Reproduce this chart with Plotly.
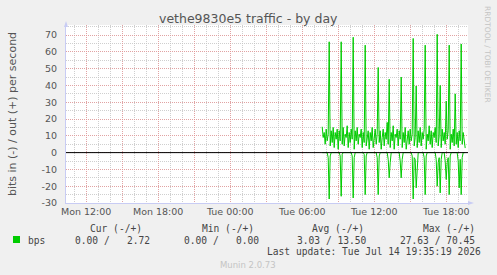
import pandas as pd
import plotly.graph_objects as go

# ---------------- data ----------------
start_time = "2026-07-14 07:40"
step = "5min"
out_bps = [15.4, 9, 12, 5, 14, 7, 11, 66, 4, 13, 6, 15, 3, 12, 8, 14, 2, 13, 7, 66,
           5, 15, 4, 11, 9, 16, 3, 12, 6, 14, 8, 68.7, 2, 13, 7, 15, 5, 11, 9, 14,
           3, 12, 6, 64, 4, 10, 13, 2, 12, 7, 15, 3, 10, 14, 5, 11, 50.7, 6, 13, 2,
           9, 14, 4, 12, 8, 18, 5, 43.7, 3, 12, 7, 16, 2, 11, 9, 14, 4, 13, 8, 45,
           3, 12, 6, 15, 2, 10, 13, 5, 14, 7, 11, 68, 4, 9, 39.7, 3, 13, 6, 15, 4,
           12, 8, 14, 64, 2, 11, 7, 16, 5, 13, 3, 12, 9, 15, 6, 70.45, 4, 10, 40, 3,
           14, 7, 12, 5, 30.7, 8, 13, 64, 2, 11, 6, 14, 4, 35, 5, 12, 3, 13, 7, 64.7,
           5, 12, 8, 2.72]
in_bps = [0, 0, 0, 0, 0, 0, 3, 27.63, 2, 0, 0, 0, 0, 0, 0, 0, 0, 0, 2, 26,
          1, 0, 0, 0, 0, 0, 0, 0, 0, 0, 2, 27, 3, 0, 0, 0, 0, 0, 0, 0,
          0, 0, 1, 25, 2, 0, 0, 0, 0, 0, 0, 0, 0, 0, 0, 3, 25, 2, 0, 0,
          0, 0, 0, 0, 0, 0, 4, 15, 6, 0, 0, 0, 0, 0, 0, 0, 0, 0, 5, 15,
          4, 0, 0, 0, 0, 0, 0, 0, 0, 0, 2, 27.6, 3, 4, 21, 5, 0, 0, 0, 0,
          0, 0, 3, 25, 2, 0, 0, 0, 0, 0, 0, 0, 0, 0, 4, 20, 6, 3, 24, 4,
          0, 0, 0, 5, 16, 6, 3, 25, 2, 0, 0, 0, 0, 0, 0, 0, 5, 21, 4, 25,
          3, 0, 0, 0]
x_range = ["2026-07-13 10:19", "2026-07-14 19:49"]
x_tickvals = ["2026-07-13 12:00", "2026-07-13 15:00", "2026-07-13 18:00", "2026-07-13 21:00",
              "2026-07-14 00:00", "2026-07-14 03:00", "2026-07-14 06:00", "2026-07-14 09:00",
              "2026-07-14 12:00", "2026-07-14 15:00", "2026-07-14 18:00"]
x_ticktext = ["Mon 12:00", "", "Mon 18:00", "", "Tue 00:00", "", "Tue 06:00", "",
              "Tue 12:00", "", "Tue 18:00"]
y_tickvals = [-30, -20, -10, 0, 10, 20, 30, 40, 50, 60, 70]
y_ticktext = ["-30", "-20", "-10", "0", "10", "20", "30", "40", "50", "60", "70"]
y_range = [-30, 76]

times = pd.date_range(start_time, periods=len(out_bps), freq=step)
in_neg = [-v for v in in_bps]

GREEN = "#00CC00"
W, H = 497, 275
L, R, T, B = 66, 29, 25, 72
PW, PH = W - L - R, H - T - B


def px(xp):
    return (xp - L) / PW


def py(yp):
    return (T + PH - yp) / PH


fig = go.Figure()
fig.add_trace(go.Scatter(x=times, y=in_neg, mode="lines",
                         line=dict(color=GREEN, width=1), hoverinfo="skip"))
fig.add_trace(go.Scatter(x=times, y=out_bps, mode="lines",
                         line=dict(color=GREEN, width=1), hoverinfo="skip"))

grid_major = "rgba(235,140,140,0.65)"
grid_minor = "rgba(195,195,195,0.8)"
axis_col = "#C8CCF4"

fig.update_layout(
    width=W, height=H,
    margin=dict(l=L, r=R, t=T, b=B),
    paper_bgcolor="#F0F0F0", plot_bgcolor="#FFFFFF",
    showlegend=False,
    font=dict(family="DejaVu Sans", size=9, color="#555555"),
    xaxis=dict(type="date", range=x_range, tickvals=x_tickvals, ticktext=x_ticktext,
               showgrid=True, gridcolor=grid_major, griddash="1px,1px", gridwidth=1,
               minor=dict(dtick=3600000, tick0="2026-07-13 12:00", showgrid=True,
                          gridcolor=grid_minor, griddash="1px,1px", gridwidth=1),
               showline=True, linecolor=axis_col, linewidth=1,
               ticks="", zeroline=False, tickfont=dict(size=9.5, color="#555555")),
    yaxis=dict(range=y_range, tickvals=y_tickvals, ticktext=y_ticktext,
               showgrid=True, gridcolor=grid_major, griddash="1px,1px", gridwidth=1,
               minor=dict(dtick=5, tick0=0, showgrid=True,
                          gridcolor=grid_minor, griddash="1px,1px", gridwidth=1),
               showline=True, linecolor=axis_col, linewidth=1,
               ticks="", zeroline=False, ticklabelstandoff=6,
               tickfont=dict(size=9.5, color="#555555"),
               title=dict(text="bits in (-) / out (+) per second", standoff=22,
                          font=dict(size=11, color="#555555"))),
)

# zero rule
fig.add_shape(type="line", xref="paper", yref="y", x0=0, x1=1, y0=0, y1=0,
              line=dict(color="#000000", width=1), layer="above")
# axis arrows
fig.add_shape(type="path", xref="paper", yref="paper",
              path=f"M {px(64)} {py(27)} L {px(68)} {py(27)} L {px(66)} {py(21)} Z",
              fillcolor=axis_col, line=dict(width=0))
fig.add_shape(type="path", xref="paper", yref="paper",
              path=f"M {px(468)} {py(201)} L {px(468)} {py(205)} L {px(474)} {py(203)} Z",
              fillcolor=axis_col, line=dict(width=0))
# legend swatch
fig.add_shape(type="rect", xref="paper", yref="paper",
              x0=px(13), x1=px(20), y0=py(243), y1=py(236),
              fillcolor=GREEN, line=dict(width=0))

mono = dict(family="DejaVu Sans Mono", size=9.6, color="#444444")


def txt(x, y, s, font, xanchor="left", angle=0):
    fig.add_annotation(x=px(x), y=py(y), xref="paper", yref="paper", text=s,
                       showarrow=False, xanchor=xanchor, yanchor="middle",
                       font=font, textangle=angle)


txt(248, 19, "vethe9830e5 traffic - by day",
    dict(family="DejaVu Sans", size=12.5, color="#555555"), xanchor="center")
txt(487, 54, "RRDTOOL / TOBI OETIKER",
    dict(family="DejaVu Sans", size=7.5, color="#C4C4C4"), xanchor="center", angle=90)
txt(116, 228, "Cur (-/+)", mono, xanchor="center")
txt(228, 228, "Min (-/+)", mono, xanchor="center")
txt(338, 228, "Avg (-/+)", mono, xanchor="center")
txt(449, 228, "Max (-/+)", mono, xanchor="center")
txt(26, 240, "bps", mono)
txt(152, 240, "0.00 /&nbsp;&nbsp; 2.72", mono, xanchor="right")
txt(261, 240, "0.00 /&nbsp;&nbsp; 0.00", mono, xanchor="right")
txt(369, 240, "3.03 / 13.50", mono, xanchor="right")
txt(477, 240, "27.63 / 70.45", mono, xanchor="right")
txt(483, 252, "Last update: Tue Jul 14 19:35:19 2026", mono, xanchor="right")
txt(248, 265, "Munin 2.0.73", dict(family="DejaVu Sans", size=8.5, color="#C4C4C4"),
    xanchor="center")

fig.write_html("out.html")
